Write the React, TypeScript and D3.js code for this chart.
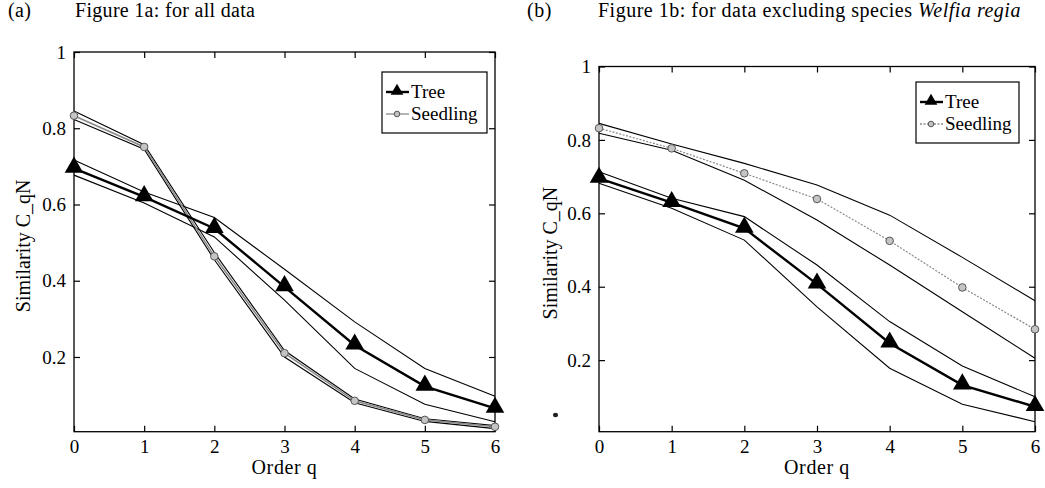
import { useRef, useEffect } from 'react';
import * as d3 from 'd3';

// order q
const orders = [0, 1, 2, 3, 4, 5, 6];
const yTicks = [0.2, 0.4, 0.6, 0.8, 1];

// Figure 1a: all data
const treeA = [0.695, 0.62, 0.537, 0.384, 0.231, 0.123, 0.065];
const treeAUp = [0.717, 0.633, 0.566, 0.43, 0.292, 0.17, 0.097];
const treeALo = [0.677, 0.604, 0.515, 0.349, 0.17, 0.076, 0.03];
const seedA = [0.833, 0.751, 0.464, 0.21, 0.085, 0.035, 0.017];
const seedAUp = [0.845, 0.757, 0.474, 0.217, 0.09, 0.038, 0.02];
const seedALo = [0.823, 0.745, 0.455, 0.2, 0.08, 0.031, 0.012];

// Figure 1b: excluding Welfia regia
const treeB = [0.695, 0.629, 0.559, 0.407, 0.246, 0.132, 0.073];
const treeBUp = [0.713, 0.641, 0.591, 0.459, 0.305, 0.184, 0.1];
const treeBLo = [0.682, 0.614, 0.527, 0.345, 0.178, 0.08, 0.032];
const seedB = [0.832, 0.777, 0.709, 0.639, 0.525, 0.398, 0.284];
const seedBUp = [0.845, 0.789, 0.736, 0.677, 0.595, 0.48, 0.362];
const seedBLo = [0.818, 0.772, 0.69, 0.582, 0.459, 0.332, 0.205];

const legendLabels = ['Tree', 'Seedling'];

const FONT = 'Liberation Serif';

export default function App() {
  const svgRef = useRef<SVGSVGElement | null>(null);

  useEffect(() => {
    const svg = d3.select(svgRef.current);
    svg.selectAll('*').remove();
    svg.attr('font-family', FONT);

    const drawPanel = (opts: any) => {
      const { x0, x1, yTop, yBot, yMin, titleX, tree, treeUp, treeLo, seed, seedUp, seedLo, seedDash, legend } = opts;
      const xScale = d3.scaleLinear().domain([0, 6]).range([x0, x1]);
      const yScale = d3.scaleLinear().domain([yMin, 1]).range([yBot, yTop]);
      const g = svg.append('g');

      const line = d3
        .line<number>()
        .x((d, i) => xScale(orders[i]))
        .y((d) => yScale(d));

      // frame
      g.append('rect')
        .attr('x', x0)
        .attr('y', yTop)
        .attr('width', x1 - x0)
        .attr('height', yBot - yTop)
        .attr('fill', 'none')
        .attr('stroke', '#000')
        .attr('stroke-width', 1.3);

      // inward ticks on all four sides
      const xb = d3.axisBottom(xScale).tickValues(orders).tickSizeInner(-6).tickSizeOuter(0).tickPadding(8).tickFormat(d3.format('d'));
      const xt = d3.axisTop(xScale).tickValues(orders).tickSizeInner(-6).tickSizeOuter(0).tickFormat(() => '');
      const yl = d3.axisLeft(yScale).tickValues(yTicks).tickSizeInner(-6).tickSizeOuter(0).tickPadding(8).tickFormat((d: any) => (d === 1 ? '1' : d3.format('.1f')(d)));
      const yr = d3.axisRight(yScale).tickValues(yTicks).tickSizeInner(-6).tickSizeOuter(0).tickFormat(() => '');

      const axes = [
        g.append('g').attr('transform', `translate(0,${yBot})`).call(xb),
        g.append('g').attr('transform', `translate(0,${yTop})`).call(xt),
        g.append('g').attr('transform', `translate(${x0},0)`).call(yl),
        g.append('g').attr('transform', `translate(${x1},0)`).call(yr),
      ];
      axes.forEach((a) => {
        a.attr('font-family', FONT).attr('font-size', 19);
        a.select('.domain').remove();
        a.selectAll('line').attr('stroke', '#000').attr('stroke-width', 1.2);
        a.selectAll('text').attr('fill', '#000');
      });

      // axis titles
      g.append('text')
        .attr('x', (x0 + x1) / 2)
        .attr('y', yBot + 42)
        .attr('text-anchor', 'middle')
        .attr('font-size', 20)
        .attr('letter-spacing', 0.6)
        .text('Order q');
      g.append('text')
        .attr('transform', `translate(${titleX},${(yTop + yBot) / 2 + 4}) rotate(-90)`)
        .attr('text-anchor', 'middle')
        .attr('font-size', 20)
        .text('Similarity C_qN');

      // confidence bounds
      [treeUp, treeLo, seedUp, seedLo].forEach((arr) => {
        g.append('path')
          .attr('d', line(arr))
          .attr('fill', 'none')
          .attr('stroke', '#000')
          .attr('stroke-width', 1.1);
      });

      // seedling mean
      g.append('path')
        .attr('d', line(seed))
        .attr('fill', 'none')
        .attr('stroke', '#8a8a8a')
        .attr('stroke-width', seedDash ? 1.2 : 1.6)
        .attr('stroke-dasharray', seedDash);
      g.selectAll('.seedpt')
        .data(seed)
        .enter()
        .append('circle')
        .attr('cx', (d, i) => xScale(orders[i]))
        .attr('cy', (d) => yScale(d))
        .attr('r', 3.8)
        .attr('fill', '#c4c4c4')
        .attr('stroke', '#555')
        .attr('stroke-width', 1);

      // tree mean
      g.append('path')
        .attr('d', line(tree))
        .attr('fill', 'none')
        .attr('stroke', '#000')
        .attr('stroke-width', 2.4);
      const tri = d3.symbol().type(d3.symbolTriangle).size(150);
      g.selectAll('.treept')
        .data(tree)
        .enter()
        .append('path')
        .attr('d', tri())
        .attr('transform', (d, i) => `translate(${xScale(orders[i])},${yScale(d) - 1})`)
        .attr('fill', '#000');

      // legend
      const [lx0, ly0, lx1, ly1] = legend;
      const lg = g.append('g');
      lg.append('rect')
        .attr('x', lx0)
        .attr('y', ly0)
        .attr('width', lx1 - lx0)
        .attr('height', ly1 - ly0)
        .attr('fill', '#fff')
        .attr('stroke', '#000')
        .attr('stroke-width', 1.2);
      const rowY = [ly0 + 20, ly0 + 42];
      lg.append('line')
        .attr('x1', lx0 + 4)
        .attr('x2', lx0 + 27)
        .attr('y1', rowY[0])
        .attr('y2', rowY[0])
        .attr('stroke', '#000')
        .attr('stroke-width', 2.4);
      lg.append('path')
        .attr('d', d3.symbol().type(d3.symbolTriangle).size(70)())
        .attr('transform', `translate(${lx0 + 15},${rowY[0] - 1})`)
        .attr('fill', '#000');
      lg.append('line')
        .attr('x1', lx0 + 4)
        .attr('x2', lx0 + 27)
        .attr('y1', rowY[1])
        .attr('y2', rowY[1])
        .attr('stroke', '#8a8a8a')
        .attr('stroke-width', 1.3)
        .attr('stroke-dasharray', seedDash);
      lg.append('circle')
        .attr('cx', lx0 + 15)
        .attr('cy', rowY[1])
        .attr('r', 2.8)
        .attr('fill', '#c4c4c4')
        .attr('stroke', '#555');
      legendLabels.forEach((t, i) => {
        lg.append('text')
          .attr('x', lx0 + 29)
          .attr('y', rowY[i] + 6)
          .attr('font-size', 19)
          .text(t);
      });
    };

    drawPanel({
      x0: 74, x1: 495, yTop: 52, yBot: 431.7, yMin: 0.004, titleX: 30,
      tree: treeA, treeUp: treeAUp, treeLo: treeALo,
      seed: seedA, seedUp: seedAUp, seedLo: seedALo,
      seedDash: null,
      legend: [382, 72, 487, 133],
    });
    drawPanel({
      x0: 599, x1: 1035, yTop: 66.5, yBot: 431.7, yMin: 0.005, titleX: 557,
      tree: treeB, treeUp: treeBUp, treeLo: treeBLo,
      seed: seedB, seedUp: seedBUp, seedLo: seedBLo,
      seedDash: '2,1.5',
      legend: [916, 82, 1019, 143],
    });

    // small scan blot left of panel b
    svg.append('ellipse')
      .attr('cx', 555.5)
      .attr('cy', 415)
      .attr('rx', 2.6)
      .attr('ry', 2.2)
      .attr('fill', '#222');

    // panel titles
    const t1 = svg.append('text').attr('y', 17).attr('font-size', 20).attr('letter-spacing', 0.3);
    t1.append('tspan').attr('x', 8).text('(a)');
    t1.append('tspan').attr('x', 75).text('Figure 1a: for all data');
    const t2 = svg.append('text').attr('y', 17).attr('font-size', 20).attr('letter-spacing', 0.5);
    t2.append('tspan').attr('x', 527).text('(b)');
    t2.append('tspan').attr('x', 598).text('Figure 1b: for data excluding species ');
    t2.append('tspan').attr('font-style', 'italic').text('Welfia regia');
  }, []);

  return (
    <svg
      ref={svgRef}
      width={1045}
      height={488}
      style={{ position: 'absolute', left: 0, top: 0, background: '#fff' }}
    ></svg>
  );
}
